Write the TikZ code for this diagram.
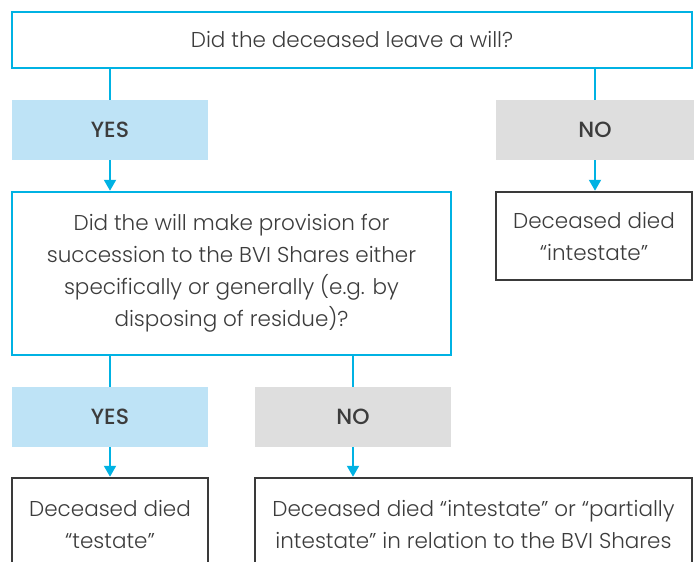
\documentclass[tikz,border=0pt]{standalone}
\usepackage{fontspec}
\setmainfont{Poppins Light}
\newfontfamily\pmed{Poppins Medium}
\usetikzlibrary{arrows.meta}
\definecolor{cblue}{HTML}{00B2E3}
\definecolor{lblue}{HTML}{BEE3F6}
\definecolor{lgray}{HTML}{DEDEDE}
\definecolor{dgray}{HTML}{3A3A3A}
\definecolor{txt}{HTML}{3C3C3C}
\begin{document}
\begin{tikzpicture}[x=1pt,y=-1pt,
  every node/.style={text=txt, font=\fontsize{21.5}{32}\selectfont, inner sep=0pt, align=center},
  qbox/.style={draw=cblue, line width=2.5pt, fill=white},
  rbox/.style={draw=dgray, line width=2.5pt, fill=white},
  yesbox/.style={fill=lblue, minimum width=196pt, minimum height=60pt, font=\pmed\fontsize{22}{32}\selectfont},
  nobox/.style={fill=lgray, minimum width=196pt, minimum height=60pt, font=\pmed\fontsize{22}{32}\selectfont},
  conn/.style={draw=cblue, line width=2pt},
  arr/.style={conn, -{Triangle[length=11pt,width=12pt]}}]
\useasboundingbox (0,0) rectangle (694,562);
\fill[white] (0,0) rectangle (694,562);
\clip (0,0) rectangle (694,562);
\node[qbox, minimum width=680pt, minimum height=56pt] (top) at (352,40) {Did the deceased leave a will?};
\node[yesbox] (yes1) at (110,130) {YES};
\node[nobox, minimum width=198pt] (no1) at (595,130) {NO};
\node[qbox, minimum width=439pt, minimum height=163pt] (q) at (231.5,273.5)
  {Did the will make provision for\\succession to the BVI Shares either\\specifically or generally (e.g. by\\disposing of residue)?};
\node[rbox, minimum width=196pt, minimum height=88pt] (int) at (594,236) {Deceased died\\“intestate”};
\node[yesbox] (yes2) at (110,417) {YES};
\node[nobox] (no2) at (353,417) {NO};
\node[rbox, minimum width=196pt, minimum height=92pt] (test) at (110,524) {Deceased died\\“testate”};
\node[rbox, minimum width=437pt, minimum height=92pt] (part) at (473.5,524) {Deceased died “intestate” or “partially\\intestate” in relation to the BVI Shares};
\draw[conn] (top.south -| yes1.north) -- (yes1.north);
\draw[conn] (top.south -| no1.north) -- (no1.north);
\draw[arr] (yes1.south) -- (q.north -| yes1.south);
\draw[arr] (no1.south) -- (int.north -| no1.south);
\draw[conn] (q.south -| yes2.north) -- (yes2.north);
\draw[conn] (q.south -| no2.north) -- (no2.north);
\draw[arr] (yes2.south) -- (test.north -| yes2.south);
\draw[arr] (no2.south) -- (part.north -| no2.south);
\end{tikzpicture}
\end{document}
